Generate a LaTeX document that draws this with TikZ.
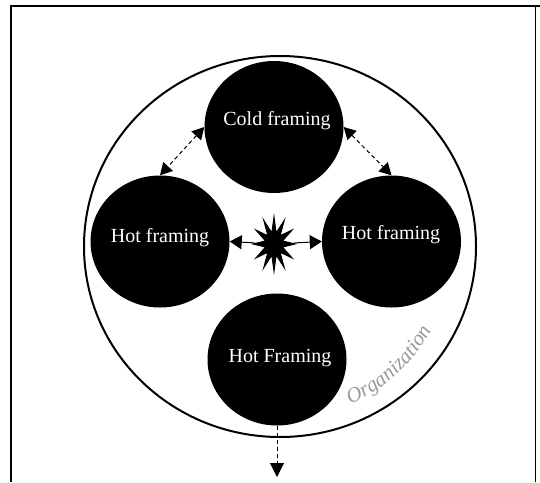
\documentclass[tikz,border=0pt]{standalone}
\usepackage{fontspec}
\setmainfont{Liberation Serif}
\usetikzlibrary{shapes.geometric,arrows.meta,decorations.text}

\begin{document}
\begin{tikzpicture}[x=1pt,y=-1pt,
  blob/.style={ellipse, fill=black, minimum width=139pt, minimum height=132pt, inner sep=0pt},
  lbl/.style={text=white, font=\fontsize{20}{24}\selectfont, inner sep=0pt},
  dashlink/.style={line width=1pt, dash pattern=on 4pt off 3pt, {Triangle[length=12pt,width=13pt]}-{Triangle[length=12pt,width=13pt]}},
  solidarrow/.style={line width=1pt, -{Triangle[length=12pt,width=14pt]}},
  outlink/.style={line width=1pt, dash pattern=on 4pt off 3pt, -{Triangle[length=14pt,width=14pt]}}]
  \useasboundingbox (0,0) rectangle (540,482);

  % page frame
  \draw[line width=1.8pt] (11,482) -- (11,6) -- (540,6);
  \draw[line width=1pt] (535.5,6) -- (535.5,482);

  % organization boundary
  \node[ellipse, draw, line width=2pt, minimum width=392pt, minimum height=381pt, inner sep=0pt] (org) at (280,246.5) {};

  % framing units
  \node[blob] (cold) at (274,127) {};
  \node[blob] (hotL) at (160,241.5) {};
  \node[blob] (hotR) at (391.5,241.5) {};
  \node[blob] (hotB) at (277,359.5) {};

  \node[lbl] (coldText) at (277,121) {Cold framing};
  \node[lbl] (hotLText) at (160,238) {Hot framing};
  \node[lbl] (hotRText) at (391,235) {Hot framing};
  \node[lbl] (hotBText) at (280,358) {Hot Framing};

  % conflict burst in the middle
  \node[star, star points=12, star point ratio=2.4, fill=black, minimum size=62pt, inner sep=0pt, xscale=0.75] (burst) at (274,244) {};

  % connectors
  \draw[dashlink] (cold.west) -- (hotL.north);
  \draw[dashlink] (cold.east) -- (hotR.north);
  \draw[solidarrow] (burst) -- (hotL.east);
  \draw[solidarrow] (burst) -- (hotR.west);
  \coordinate (sink) at (277,477);
  \draw[outlink] (hotB.south) -- (sink);

  % boundary caption along the circle
  \path[decorate, decoration={text along path, text align=center, text color=gray!80,
      text={|\itshape\fontsize{21}{25}\selectfont|Organization}}]
    ({280+173*cos(70)},{246.5+173*sin(70)}) arc[start angle=70, end angle=25, radius=173];
\end{tikzpicture}
\end{document}
